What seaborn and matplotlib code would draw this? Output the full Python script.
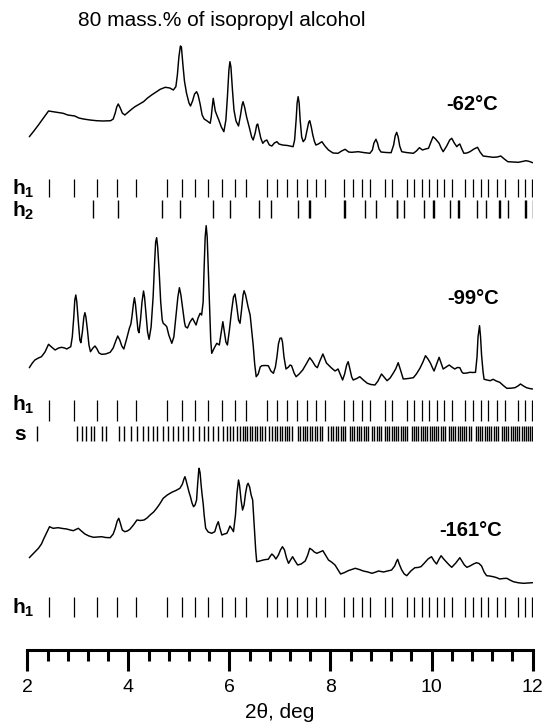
import matplotlib
matplotlib.use("Agg")
import matplotlib.pyplot as plt
import seaborn as sns
import numpy as np
import pandas as pd

sns.set_style("white")
plt.rcParams['font.family'] = ['Liberation Sans', 'DejaVu Sans']
plt.rcParams['mathtext.fontset'] = 'custom'
plt.rcParams['mathtext.rm'] = 'Liberation Sans'
plt.rcParams['mathtext.bf'] = 'Liberation Sans:bold'
plt.rcParams['mathtext.it'] = 'Liberation Sans:italic'
for k in ['text.color', 'axes.labelcolor', 'xtick.color', 'ytick.color', 'axes.edgecolor']:
    plt.rcParams[k] = 'black'

# ---------------- data ----------------
title_text = "80 mass.% of isopropyl alcohol"
x_label = "2\u03b8, deg"
temp_labels = ["-62\u00b0C", "-99\u00b0C", "-161\u00b0C"]
x_ticks = [2, 4, 6, 8, 10, 12]

# -62 C pattern: (2theta, intensity a.u.)
t62_points = [
    (2.04, 28.3), (2.13, 34), (2.22, 40), (2.32, 47), (2.42, 54), (2.51, 53.3), (2.60, 52.5),
    (2.71, 51.7), (2.80, 50), (2.94, 49), (3.02, 47), (3.11, 46), (3.24, 45), (3.37, 44.3),
    (3.50, 44), (3.65, 44.3), (3.70, 46), (3.74, 52), (3.77, 58), (3.80, 61), (3.84, 57),
    (3.88, 52), (3.93, 50), (4.00, 53), (4.07, 56), (4.13, 58.3), (4.22, 61), (4.30, 63.3),
    (4.38, 67), (4.46, 70), (4.55, 73), (4.63, 75.7), (4.73, 77.7), (4.82, 77), (4.89, 75),
    (4.94, 78.3), (4.97, 90), (5.00, 108), (5.03, 119), (5.05, 118), (5.08, 100), (5.11, 84),
    (5.15, 72), (5.20, 62), (5.23, 59), (5.27, 64), (5.31, 71), (5.35, 73.3), (5.38, 70),
    (5.42, 61), (5.46, 50), (5.50, 46), (5.56, 44), (5.62, 41.7), (5.64, 48), (5.66, 58),
    (5.68, 66.7), (5.70, 60), (5.72, 54), (5.75, 50), (5.79, 45), (5.84, 38), (5.89, 33.3),
    (5.93, 45), (5.96, 68), (5.99, 95), (6.01, 103.3), (6.03, 98), (6.06, 75), (6.09, 55),
    (6.13, 44), (6.18, 39), (6.22, 50), (6.25, 60), (6.27, 63.3), (6.30, 58), (6.34, 48),
    (6.39, 38.3), (6.44, 28), (6.47, 25), (6.51, 32), (6.54, 40), (6.56, 41), (6.59, 34),
    (6.62, 27), (6.66, 21.7), (6.70, 24), (6.74, 25), (6.79, 20), (6.84, 19), (6.89, 22),
    (6.94, 23.3), (6.98, 21), (7.05, 20), (7.15, 19.5), (7.26, 18.3), (7.29, 25), (7.32, 45),
    (7.34, 62), (7.36, 68.3), (7.38, 62), (7.40, 45), (7.43, 28), (7.46, 23.3), (7.50, 26),
    (7.54, 36), (7.57, 43), (7.59, 44.3), (7.62, 38), (7.65, 30), (7.68, 24), (7.71, 20),
    (7.76, 21), (7.83, 23.3), (7.89, 19), (7.96, 15), (8.05, 12), (8.15, 11.7), (8.22, 14),
    (8.29, 15.7), (8.36, 13), (8.42, 12.7), (8.55, 13.3), (8.65, 12.5), (8.78, 11.7),
    (8.83, 15), (8.86, 22), (8.90, 25.7), (8.93, 22), (8.96, 16), (9.00, 13), (9.10, 12.5),
    (9.20, 12.3), (9.25, 20), (9.28, 29), (9.31, 32.7), (9.34, 28), (9.37, 19), (9.41, 13.3),
    (9.50, 12.5), (9.64, 11.7), (9.70, 14), (9.76, 17.3), (9.82, 15), (9.88, 16), (9.94, 16.7),
    (9.98, 22), (10.03, 28.3), (10.08, 26), (10.15, 21.7), (10.19, 17), (10.23, 13.3),
    (10.30, 19), (10.36, 25), (10.40, 26.7), (10.45, 22), (10.50, 18.3), (10.53, 20),
    (10.56, 21), (10.60, 16), (10.64, 11.7), (10.70, 12), (10.76, 13.3), (10.84, 16),
    (10.91, 17.7), (10.96, 13), (11.02, 9), (11.10, 8.5), (11.22, 7.7), (11.30, 8), (11.37, 9),
    (11.44, 6), (11.51, 3.3), (11.62, 3), (11.72, 2.7), (11.80, 3.5), (11.87, 4.3),
    (11.94, 3.5), (12.00, 2.3)]

# -99 C pattern
t99_points = [
    (2.04, 24.3), (2.10, 29), (2.15, 32), (2.22, 34), (2.28, 35.3), (2.35, 40), (2.42, 47.7),
    (2.48, 45), (2.55, 42), (2.62, 44), (2.68, 44.7), (2.74, 44), (2.78, 43), (2.86, 45.3),
    (2.89, 55), (2.92, 75), (2.94, 92), (2.96, 97), (2.98, 90), (3.01, 70), (3.04, 52),
    (3.06, 49.3), (3.09, 60), (3.12, 75), (3.14, 79.3), (3.16, 75), (3.19, 62), (3.22, 47),
    (3.25, 40.3), (3.30, 44), (3.34, 46), (3.38, 43), (3.42, 39), (3.47, 37.7), (3.55, 38),
    (3.64, 39.7), (3.70, 44), (3.75, 51), (3.79, 56), (3.83, 52), (3.87, 46), (3.91, 43),
    (3.96, 52), (4.02, 63.7), (4.05, 68), (4.07, 75), (4.10, 88), (4.12, 94.3), (4.14, 88),
    (4.17, 72), (4.19, 62), (4.21, 59.3), (4.24, 72), (4.27, 90), (4.30, 101), (4.32, 95),
    (4.35, 78), (4.38, 60), (4.41, 52.7), (4.45, 65), (4.49, 95), (4.52, 130), (4.54, 150),
    (4.56, 154.3), (4.58, 145), (4.61, 120), (4.64, 90), (4.67, 72), (4.69, 68.7), (4.73, 67),
    (4.76, 65.3), (4.80, 57), (4.86, 48.7), (4.90, 55), (4.94, 75), (4.98, 95), (5.01, 104.3),
    (5.04, 97), (5.08, 82), (5.11, 70), (5.13, 65.3), (5.17, 64), (5.22, 70), (5.27, 73.7),
    (5.31, 70), (5.34, 67), (5.38, 74), (5.42, 78.7), (5.45, 77), (5.48, 90), (5.50, 125),
    (5.52, 155), (5.54, 166.3), (5.56, 155), (5.58, 125), (5.61, 80), (5.63, 52), (5.65, 38.7),
    (5.70, 44), (5.75, 48.7), (5.80, 47), (5.84, 60), (5.87, 70.3), (5.90, 60), (5.93, 50),
    (5.96, 47), (6.00, 62), (6.04, 80), (6.08, 95), (6.11, 98), (6.14, 88), (6.18, 72),
    (6.21, 68.7), (6.24, 82), (6.27, 97), (6.29, 101.3), (6.32, 97), (6.37, 85), (6.41, 77),
    (6.44, 62), (6.47, 47), (6.50, 28), (6.53, 15.3), (6.57, 18), (6.61, 25), (6.64, 26.3),
    (6.70, 26.5), (6.77, 26.3), (6.82, 21), (6.87, 18.7), (6.91, 25), (6.94, 35), (6.97, 48),
    (7.00, 53.7), (7.03, 54), (7.05, 50), (7.08, 35), (7.12, 23), (7.17, 25), (7.20, 27),
    (7.23, 26.3), (7.28, 19), (7.32, 15.3), (7.38, 18), (7.45, 22), (7.52, 28), (7.59, 34.3),
    (7.64, 31), (7.70, 26), (7.74, 24.3), (7.79, 31), (7.85, 38), (7.89, 33), (7.92, 29),
    (7.96, 27), (8.02, 24), (8.09, 21), (8.15, 23), (8.20, 17), (8.24, 12), (8.28, 18),
    (8.32, 27), (8.35, 30.3), (8.38, 24), (8.42, 15), (8.45, 12), (8.52, 13.5), (8.58, 15.3),
    (8.65, 12), (8.73, 8.7), (8.80, 7.5), (8.88, 7), (8.94, 11), (9.01, 18), (9.06, 15),
    (9.12, 11.3), (9.18, 14), (9.24, 18.7), (9.29, 23), (9.34, 29.3), (9.38, 23), (9.44, 13),
    (9.54, 13.5), (9.64, 14.3), (9.70, 18), (9.77, 23.7), (9.83, 30), (9.88, 36.3),
    (9.93, 33), (9.98, 28.7), (10.02, 24), (10.05, 21), (10.10, 28), (10.15, 34.7),
    (10.19, 29), (10.23, 23), (10.29, 25), (10.35, 27), (10.40, 25), (10.46, 23),
    (10.51, 24.5), (10.56, 24.3), (10.60, 20), (10.63, 18.7), (10.70, 19), (10.76, 19.7),
    (10.82, 19.5), (10.87, 19.7), (10.90, 35), (10.92, 55), (10.95, 66.3), (10.97, 55),
    (10.99, 37), (11.02, 20), (11.04, 12.7), (11.10, 12), (11.16, 11.3), (11.22, 12.7),
    (11.28, 11), (11.35, 9.7), (11.42, 6.5), (11.49, 3.7), (11.57, 3.8), (11.65, 4.3),
    (11.71, 6), (11.76, 8), (11.82, 6), (11.88, 4.3), (11.94, 3.5), (12.00, 3)]

# -161 C pattern
t161_points = [
    (2.04, 27.3), (2.13, 32), (2.22, 36.7), (2.28, 41), (2.33, 46.7), (2.38, 52), (2.44, 58.3),
    (2.51, 56.7), (2.61, 57.3), (2.70, 56.5), (2.78, 56), (2.85, 55), (2.91, 54.3),
    (2.96, 55.5), (3.01, 56.7), (3.07, 54), (3.14, 51), (3.22, 49), (3.31, 47.7), (3.40, 48),
    (3.47, 48.3), (3.55, 47.5), (3.64, 47.3), (3.70, 51), (3.74, 56.7), (3.78, 64),
    (3.81, 66.7), (3.84, 62), (3.88, 55), (3.93, 53.3), (3.98, 54), (4.03, 55.7), (4.10, 60),
    (4.17, 65), (4.24, 64.5), (4.31, 65), (4.37, 67), (4.43, 70), (4.50, 73), (4.56, 76.7),
    (4.62, 81), (4.69, 86.7), (4.77, 90), (4.86, 92.7), (4.94, 94.5), (5.02, 96.7),
    (5.07, 101), (5.10, 106), (5.12, 108.3), (5.14, 105), (5.17, 99), (5.20, 93), (5.23, 88),
    (5.26, 82), (5.29, 78.3), (5.32, 80), (5.35, 85), (5.37, 100), (5.39, 113), (5.40, 116.7),
    (5.42, 112), (5.44, 100), (5.46, 90), (5.48, 81.7), (5.50, 70), (5.53, 56.7), (5.58, 53),
    (5.65, 51.7), (5.71, 53.3), (5.75, 60), (5.78, 63.3), (5.81, 57), (5.85, 50), (5.90, 51),
    (5.95, 51.7), (5.98, 55), (6.01, 59), (6.05, 56), (6.08, 53.3), (6.12, 70), (6.15, 92),
    (6.18, 105), (6.20, 100), (6.23, 85), (6.26, 75), (6.29, 80), (6.32, 92), (6.35, 100),
    (6.37, 101.7), (6.40, 98), (6.43, 90), (6.46, 85), (6.49, 60), (6.52, 35), (6.54, 23.3),
    (6.60, 24), (6.67, 25), (6.72, 25.5), (6.77, 25.7), (6.81, 29), (6.84, 31), (6.88, 29),
    (6.92, 26), (6.97, 30), (7.01, 35), (7.05, 38.3), (7.09, 35), (7.13, 27), (7.17, 21.7),
    (7.21, 25), (7.25, 28.3), (7.30, 24), (7.35, 20), (7.42, 21), (7.50, 24), (7.55, 30),
    (7.59, 36.7), (7.64, 35), (7.68, 33), (7.73, 31.7), (7.79, 33), (7.85, 34.3), (7.90, 30),
    (7.96, 25), (8.02, 23), (8.09, 20), (8.15, 15), (8.20, 11), (8.28, 12.5), (8.35, 14.3),
    (8.42, 15.5), (8.49, 16.7), (8.57, 15.5), (8.65, 14), (8.74, 13), (8.82, 11.7), (8.90, 13),
    (8.95, 14), (9.00, 13.5), (9.05, 13), (9.13, 14), (9.21, 15), (9.27, 19), (9.31, 24),
    (9.33, 25.7), (9.36, 21), (9.41, 15), (9.46, 11), (9.51, 9.3), (9.59, 14), (9.67, 17.3),
    (9.73, 17.5), (9.79, 18.3), (9.86, 22), (9.93, 26), (10.00, 28.3), (10.05, 24),
    (10.10, 21), (10.15, 26), (10.19, 29.3), (10.24, 26), (10.29, 23.3), (10.35, 20),
    (10.40, 17.7), (10.48, 22), (10.56, 27.3), (10.60, 24), (10.65, 20), (10.70, 17.7),
    (10.76, 19), (10.83, 21), (10.89, 22.3), (10.94, 21.5), (10.99, 19), (11.04, 13),
    (11.09, 9.3), (11.15, 9), (11.22, 8.3), (11.28, 7.5), (11.35, 6), (11.42, 6.5),
    (11.49, 6.7), (11.55, 5), (11.62, 3.3), (11.72, 2.2), (11.82, 1.7), (11.91, 2), (12.00, 2.3)]

# reflection positions (2theta)
h1_pos = [2.43, 2.92, 3.38, 3.78, 4.15, 4.76, 5.06, 5.32, 5.58, 5.85, 6.11, 6.33,
          6.74, 6.94, 7.14, 7.34, 7.53, 7.72, 7.89, 8.27, 8.45, 8.62, 8.78, 9.08, 9.22,
          9.51, 9.65, 9.81, 9.95, 10.11, 10.25, 10.40, 10.66, 10.82, 10.98, 11.12, 11.30,
          11.45, 11.71, 11.85, 11.99]
h2_pos = [3.30, 3.80, 4.67, 5.03, 5.68, 6.01, 6.58, 6.82, 7.35, 7.57, 7.59, 8.27, 8.28,
          8.69, 8.90, 9.31, 9.32, 9.46, 9.86, 10.03, 10.04, 10.37, 10.53, 10.55, 10.89,
          11.07, 11.33, 11.36, 11.51, 11.85, 11.87, 12.00]
s_pos = [2.19, 2.98, 3.08, 3.16, 3.26, 3.32, 3.48, 3.56,
         3.81, 3.91, 4.05, 4.17, 4.29, 4.39, 4.49, 4.57, 4.69, 4.79, 4.88, 4.98, 5.08, 5.18,
         5.28, 5.40, 5.50, 5.58, 5.67, 5.77, 5.87, 5.95, 6.01, 6.07, 6.15, 6.21,
         6.27, 6.31, 6.35, 6.41, 6.45, 6.51, 6.55, 6.61, 6.65, 6.70, 6.78, 6.84, 6.90, 6.94,
         7.00, 7.04, 7.10, 7.14, 7.18, 7.24, 7.36, 7.40, 7.46, 7.50, 7.54, 7.60, 7.64, 7.69,
         7.73, 7.79, 7.83, 7.95, 8.01, 8.05, 8.11, 8.15, 8.21, 8.25, 8.29, 8.39, 8.43, 8.47,
         8.53, 8.57, 8.60, 8.66, 8.70, 8.74, 8.82, 8.86, 8.92, 8.96, 9.00, 9.08, 9.12, 9.16,
         9.22, 9.26, 9.30, 9.34, 9.40, 9.44, 9.48, 9.51, 9.61, 9.65, 9.69, 9.73, 9.79, 9.83,
         9.87, 9.91, 9.97, 10.01, 10.05, 10.09, 10.13, 10.19, 10.23, 10.27, 10.35, 10.39,
         10.42, 10.46, 10.52, 10.56, 10.60, 10.64, 10.68, 10.74, 10.78, 10.88, 10.92, 10.96,
         11.00, 11.06, 11.10, 11.14, 11.18, 11.24, 11.27, 11.31, 11.39, 11.43, 11.47, 11.51,
         11.57, 11.61, 11.65, 11.69, 11.73, 11.79, 11.83, 11.87, 11.91, 11.95, 11.99]

# ---------------- layout (pixel based) ----------------
W, H = 547, 723
AX_L, AX_R, AX_B = 27.3, 532.6, 650.0   # pixel positions of x=2, x=12, axis line


def py(p):
    """pixel row of the figure -> axis y units"""
    return AX_B - p


def px(p):
    """pixel column of the figure -> 2theta units"""
    return 2 + (p - AX_L) * 10.0 / (AX_R - AX_L)


fig = plt.figure(figsize=(W / 100, H / 100), dpi=100)
ax = fig.add_axes([AX_L / W, (H - AX_B) / H, (AX_R - AX_L) / W, AX_B / H])
ax.set_xlim(2, 12)
ax.set_ylim(0, AX_B)

# curves with vertical offsets (baseline pixel rows)
curves = [(t62_points, 165), (t99_points, 392), (t161_points, 585)]
for pts, base in curves:
    xs, ys = zip(*pts)
    df = pd.DataFrame({"two_theta": xs, "I": np.asarray(ys) + py(base)})
    sns.lineplot(data=df, x="two_theta", y="I", ax=ax, color="black", lw=1.05,
                 sort=False, estimator=None)

# reflection rows: (positions, top px, bottom px, label, subscript, label px y, line width)
rows = [(h1_pos, 179, 197, "h", "1", 189, 0.9),
        (h2_pos, 200, 218, "h", "2", 211, 1.0),
        (h1_pos, 400, 421, "h", "1", 405, 0.9),
        (s_pos, 426, 441, "s", None, 434, 1.0),
        (h1_pos, 597, 617, "h", "1", 608, 0.9)]
for pos, top, bot, lab, sub, ly, lw in rows:
    ax.vlines(pos, py(bot), py(top), color="black", lw=lw)
    if sub is not None:
        ax.text(px(12), py(ly), r"$\mathbf{%s}_{\mathbf{%s}}$" % (lab, sub),
                fontsize=15, ha="left", va="center", clip_on=False)
    else:
        ax.text(px(14), py(ly), lab, fontsize=15, fontweight="bold",
                ha="left", va="center", clip_on=False)

# temperature labels
for lab, (lx, ly) in zip(temp_labels, [(446, 104), (447, 299), (439, 530)]):
    ax.text(px(lx), py(ly), lab, fontsize=14.5, fontweight="bold", ha="left", va="center")

ax.text(px(222), py(20), title_text, fontsize=15, ha="center", va="center")

# axis styling
for s in ["left", "right", "top"]:
    ax.spines[s].set_visible(False)
ax.spines["bottom"].set_linewidth(2.2)
ax.set_yticks([])
ax.set_xticks(x_ticks)
ax.set_xticks(np.arange(2, 12.01, 0.4), minor=True)
ax.tick_params(axis="x", which="both", bottom=True, top=False)
ax.tick_params(axis="x", which="major", length=15, width=2.2, direction="out",
               labelsize=14, pad=6, color="black")
ax.tick_params(axis="x", which="minor", length=8, width=2.2, direction="out", color="black")
ax.set_xlabel(x_label, fontsize=15, labelpad=5)
ax.set_ylabel("")
ax.patch.set_alpha(0)

fig.savefig("out.png", dpi=100)
